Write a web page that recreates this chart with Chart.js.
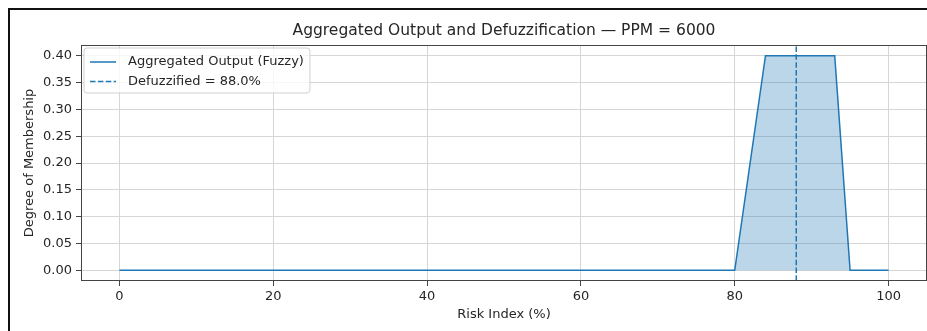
<!DOCTYPE html>
<html>
<head>
<meta charset="utf-8">
<script src="https://cdn.jsdelivr.net/npm/chart.js@4/dist/chart.umd.min.js"></script>
<style>
  html, body { margin: 0; padding: 0; background: #fff; }
  #wrap { position: relative; width: 927px; height: 331px; overflow: hidden; }
  canvas { display: block; }
  #frame { position: absolute; left: 8px; top: 8px; right: -10px; bottom: -10px;
           border-left: 2px solid #111; border-top: 2px solid #111; pointer-events: none; }
</style>
</head>
<body>
<div id="wrap">
  <canvas id="chart" width="927" height="331"></canvas>
  <div id="frame"></div>
</div>
<script>
// Aggregated fuzzy output (breakpoints of the clipped membership curve)
const riskIndex  = [0, 80, 84, 93, 95, 100];
const membership = [0, 0, 0.4, 0.4, 0, 0];
const defuzzified = 88.0;

// Axis ticks and view limits
const xTicks = [0, 20, 40, 60, 80, 100];
const yTicks = [0, 0.05, 0.10, 0.15, 0.20, 0.25, 0.30, 0.35, 0.40];
const xRange = [-5, 105];
const yRange = [-0.02, 0.42];

const BLUE = '#1f77b4';
const FONT = 'DejaVu Sans';
const TEXT = '#262626';

// Axes frame (all four spines), drawn above the filled area
const axesFrame = {
  id: 'axesFrame',
  afterDatasetsDraw(chart) {
    const { ctx, chartArea: a } = chart;
    ctx.save();
    ctx.strokeStyle = '#444';
    ctx.lineWidth = 1;
    ctx.strokeRect(Math.round(a.left) + 0.5, Math.round(a.top) + 0.5,
                   Math.round(a.width) - 1, Math.round(a.height) - 1);
    ctx.restore();
  }
};

// Legend box in the upper-left corner of the plot area
const insetLegend = {
  id: 'insetLegend',
  afterDraw(chart) {
    const { ctx, chartArea: a } = chart;
    const sets = chart.data.datasets;
    ctx.save();
    ctx.font = '13px "' + FONT + '"';
    const textW = Math.max(...sets.map(d => ctx.measureText(d.label).width));
    const x = a.left + 3, y = a.top + 3;
    const w = 44 + textW + 6, h = 45, r = 3;
    ctx.beginPath();
    ctx.moveTo(x + r, y);
    ctx.lineTo(x + w - r, y);
    ctx.arcTo(x + w, y, x + w, y + r, r);
    ctx.lineTo(x + w, y + h - r);
    ctx.arcTo(x + w, y + h, x + w - r, y + h, r);
    ctx.lineTo(x + r, y + h);
    ctx.arcTo(x, y + h, x, y + h - r, r);
    ctx.lineTo(x, y + r);
    ctx.arcTo(x, y, x + r, y, r);
    ctx.closePath();
    ctx.fillStyle = 'rgba(255,255,255,0.8)';
    ctx.fill();
    ctx.strokeStyle = '#d0d0d0';
    ctx.lineWidth = 1;
    ctx.stroke();

    sets.forEach((d, i) => {
      const cy = y + 14 + i * 19.5;
      ctx.beginPath();
      ctx.setLineDash(d.borderDash || []);
      ctx.strokeStyle = d.borderColor;
      ctx.lineWidth = d.borderWidth;
      ctx.moveTo(x + 6, cy);
      ctx.lineTo(x + 32, cy);
      ctx.stroke();
      ctx.setLineDash([]);
      ctx.fillStyle = TEXT;
      ctx.textBaseline = 'middle';
      ctx.textAlign = 'left';
      ctx.fillText(d.label, x + 44, cy);
    });
    ctx.restore();
  }
};

new Chart(document.getElementById('chart'), {
  type: 'line',
  data: {
    datasets: [
      {
        label: 'Aggregated Output (Fuzzy)',
        data: riskIndex.map((x, i) => ({ x, y: membership[i] })),
        borderColor: BLUE,
        borderWidth: 1.5,
        backgroundColor: 'rgba(31,119,180,0.3)',
        fill: 'origin',
        pointRadius: 0,
        tension: 0
      },
      {
        label: 'Defuzzified = ' + defuzzified.toFixed(1) + '%',
        data: [{ x: defuzzified, y: yRange[0] }, { x: defuzzified, y: yRange[1] }],
        borderColor: BLUE,
        borderWidth: 1.5,
        borderDash: [5.5, 2.4],
        fill: false,
        pointRadius: 0
      }
    ]
  },
  options: {
    responsive: false,
    animation: false,
    events: [],
    layout: { padding: { left: 0, right: 0, top: 0, bottom: 0 } },
    plugins: {
      legend: { display: false },
      tooltip: { enabled: false },
      title: {
        display: true,
        fullSize: false,
        text: 'Aggregated Output and Defuzzification — PPM = 6000',
        color: TEXT,
        font: { family: FONT, size: 15.5, weight: 'normal' },
        padding: { top: 22, bottom: 4.4 }
      }
    },
    scales: {
      x: {
        type: 'linear',
        min: xRange[0],
        max: xRange[1],
        afterBuildTicks: s => { s.ticks = xTicks.map(v => ({ value: v })); },
        afterFit: s => { s.height = 50; },
        grid: { color: '#d6d6d6', lineWidth: 1, tickColor: '#444', tickLength: 5 },
        border: { display: false },
        ticks: {
          color: TEXT, padding: 3, maxRotation: 0, autoSkip: false,
          font: { family: FONT, size: 13 },
          callback: v => String(v)
        },
        title: {
          display: true, text: 'Risk Index (%)', color: TEXT,
          font: { family: FONT, size: 13 },
          padding: { top: 0, bottom: 8.2 }
        }
      },
      y: {
        type: 'linear',
        min: yRange[0],
        max: yRange[1],
        afterBuildTicks: s => { s.ticks = yTicks.map(v => ({ value: v })); },
        afterFit: s => { s.width = 81; },
        grid: { color: '#d6d6d6', lineWidth: 1, tickColor: '#444', tickLength: 5 },
        border: { display: false },
        ticks: {
          color: TEXT, padding: 4, autoSkip: false,
          font: { family: FONT, size: 13 },
          callback: v => Number(v).toFixed(2)
        },
        title: {
          display: true, text: 'Degree of Membership', color: TEXT,
          font: { family: FONT, size: 13 },
          padding: { top: 22, bottom: 0 }
        }
      }
    }
  },
  plugins: [axesFrame, insetLegend]
});
</script>
</body>
</html>
